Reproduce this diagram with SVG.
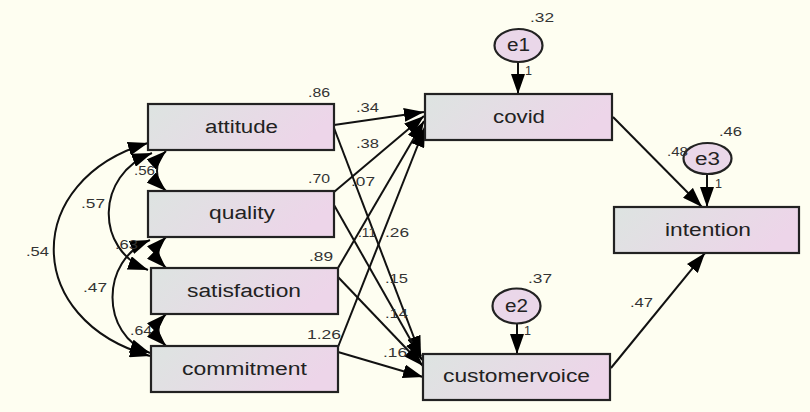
<svg xmlns="http://www.w3.org/2000/svg" width="810" height="412" viewBox="0 0 810 412">
<style>
.bx{stroke:#222;stroke-width:2.2;fill:url(#g)}
.el{stroke:#222;stroke-width:2.2;fill:#EAD7E9}
.ln{fill:none;stroke:#111;stroke-width:2;marker-end:url(#ah)}
.cv{fill:none;stroke:#111;stroke-width:2;marker-start:url(#ah);marker-end:url(#ah)}
.t{font-family:"Liberation Sans",Arial,sans-serif;font-size:18px;fill:#222}
.n{font-family:"Liberation Sans",Arial,sans-serif;font-size:13.5px;fill:#333}
</style>
<defs>
<linearGradient id="g" x1="0" y1="0" x2="1" y2="0.25">
<stop offset="0" stop-color="#DDE4E1"/>
<stop offset="1" stop-color="#EDD5E9"/>
</linearGradient>
<marker id="ah" markerUnits="userSpaceOnUse" markerWidth="20" markerHeight="14" refX="20" refY="7" orient="auto-start-reverse" viewBox="0 0 20 14">
<path d="M0,0 L20,7 L0,14 Z" fill="#000"/>
</marker>
</defs>
<rect width="810" height="412" fill="#FEFEF1"/>
<g id="connectors">
<path class="ln" d="M334,125 L424,112"/>
<path class="ln" d="M334,192 L424,116"/>
<path class="ln" d="M338,268 L424,121"/>
<path class="ln" d="M338,347 L425,127"/>
<path class="ln" d="M334,128 L421,356"/>
<path class="ln" d="M334,205 L422,360"/>
<path class="ln" d="M338,277 L423,366"/>
<path class="ln" d="M338,352 L423,377"/>
<path class="ln" d="M613,117 L702,207"/>
<path class="ln" d="M611,368 L705,253"/>
<path class="ln" d="M518,62 L518,94"/>
<path class="ln" d="M707,174 L707,207"/>
<path class="ln" d="M517,324 L517,354"/>
<path class="cv" d="M148,143 C22,180 22,320 150,356"/>
<path class="cv" d="M152,153 C95,175 95,250 148,270"/>
<path class="cv" d="M150,240 C100,260 100,335 150,353"/>
<path class="cv" d="M166,151 C154,162 154,180 166,191"/>
<path class="cv" d="M166,237 C156,247 156,258 166,268"/>
<path class="cv" d="M166,314 C156,324 156,336 166,346"/>
</g>
<g id="attitude"><rect class="bx" x="148" y="104" width="186" height="46"/><text class="t" x="205" y="133" textLength="73" lengthAdjust="spacingAndGlyphs">attitude</text></g>
<g id="quality"><rect class="bx" x="148" y="191" width="186" height="46"/><text class="t" x="209" y="219" textLength="66" lengthAdjust="spacingAndGlyphs">quality</text></g>
<g id="satisfaction"><rect class="bx" x="151" y="268" width="187" height="46"/><text class="t" x="187" y="297" textLength="114" lengthAdjust="spacingAndGlyphs">satisfaction</text></g>
<g id="commitment"><rect class="bx" x="151" y="346" width="187" height="46"/><text class="t" x="182" y="375" textLength="125" lengthAdjust="spacingAndGlyphs">commitment</text></g>
<g id="covid"><rect class="bx" x="425" y="94" width="187" height="46"/><text class="t" x="493" y="123" textLength="52" lengthAdjust="spacingAndGlyphs">covid</text></g>
<g id="intention"><rect class="bx" x="614" y="207" width="185" height="46"/><text class="t" x="665" y="236" textLength="86" lengthAdjust="spacingAndGlyphs">intention</text></g>
<g id="customervoice"><rect class="bx" x="423" y="354" width="187" height="46"/><text class="t" x="443" y="382" textLength="147" lengthAdjust="spacingAndGlyphs">customervoice</text></g>
<g id="e1"><ellipse class="el" cx="518.5" cy="45.5" rx="24" ry="16.5"/><text class="t" x="507" y="51" textLength="23" lengthAdjust="spacingAndGlyphs">e1</text></g>
<g id="e3"><ellipse class="el" cx="707.5" cy="158.5" rx="24" ry="15.5"/><text class="t" x="695" y="165" textLength="25" lengthAdjust="spacingAndGlyphs">e3</text></g>
<g id="e2"><ellipse class="el" cx="516.5" cy="306" rx="24" ry="17.5"/><text class="t" x="505" y="312" textLength="23" lengthAdjust="spacingAndGlyphs">e2</text></g>
<g id="labels">
<text class="n" x="308" y="97" textLength="22" lengthAdjust="spacingAndGlyphs">.86</text>
<text class="n" x="356" y="112" textLength="23" lengthAdjust="spacingAndGlyphs">.34</text>
<text class="n" x="356" y="148" textLength="23" lengthAdjust="spacingAndGlyphs">.38</text>
<text class="n" x="308" y="183" textLength="22" lengthAdjust="spacingAndGlyphs">.70</text>
<text class="n" x="351" y="186" textLength="24" lengthAdjust="spacingAndGlyphs">.07</text>
<text class="n" x="358" y="237" textLength="18" lengthAdjust="spacingAndGlyphs">.11</text>
<text class="n" x="385" y="237" textLength="24" lengthAdjust="spacingAndGlyphs">.26</text>
<text class="n" x="309" y="261" textLength="24" lengthAdjust="spacingAndGlyphs">.89</text>
<text class="n" x="385" y="283" textLength="23" lengthAdjust="spacingAndGlyphs">.15</text>
<text class="n" x="385" y="318" textLength="23" lengthAdjust="spacingAndGlyphs">.14</text>
<text class="n" x="307" y="339" textLength="34" lengthAdjust="spacingAndGlyphs">1.26</text>
<text class="n" x="383" y="357" textLength="24" lengthAdjust="spacingAndGlyphs">.16</text>
<text class="n" x="530" y="22" textLength="24" lengthAdjust="spacingAndGlyphs">.32</text>
<text class="n" x="525" y="75" textLength="7" lengthAdjust="spacingAndGlyphs">1</text>
<text class="n" x="719" y="136" textLength="23" lengthAdjust="spacingAndGlyphs">.46</text>
<text class="n" x="667" y="156" textLength="21" lengthAdjust="spacingAndGlyphs">.48</text>
<text class="n" x="715" y="188" textLength="7" lengthAdjust="spacingAndGlyphs">1</text>
<text class="n" x="528" y="283" textLength="24" lengthAdjust="spacingAndGlyphs">.37</text>
<text class="n" x="524" y="335" textLength="7" lengthAdjust="spacingAndGlyphs">1</text>
<text class="n" x="630" y="307" textLength="23" lengthAdjust="spacingAndGlyphs">.47</text>
<text class="n" x="26" y="256" textLength="23" lengthAdjust="spacingAndGlyphs">.54</text>
<text class="n" x="81" y="208" textLength="24" lengthAdjust="spacingAndGlyphs">.57</text>
<text class="n" x="83" y="292" textLength="24" lengthAdjust="spacingAndGlyphs">.47</text>
<text class="n" x="134" y="175" textLength="21" lengthAdjust="spacingAndGlyphs">.56</text>
<text class="n" x="115" y="249" textLength="23" lengthAdjust="spacingAndGlyphs">.63</text>
<text class="n" x="130" y="335" textLength="22" lengthAdjust="spacingAndGlyphs">.64</text>
</g>
</svg>
